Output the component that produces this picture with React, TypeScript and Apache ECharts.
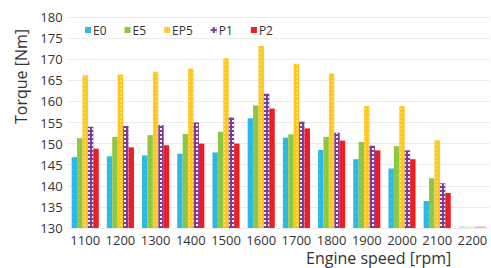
import React, { useEffect, useRef } from "react";
import * as echarts from "echarts";

const categories = ["1100", "1200", "1300", "1400", "1500", "1600", "1700", "1800", "1900", "2000", "2100", "2200"];
const seriesNames = ["E0", "E5", "EP5", "P1", "P2"];
const e0 = [146.8, 147.0, 147.2, 147.6, 147.9, 156.0, 151.4, 148.5, 146.3, 144.1, 136.4, 130.4];
const e5 = [151.3, 151.6, 152.0, 152.3, 152.8, 159.0, 152.2, 151.6, 150.4, 149.4, 141.8, 130.4];
const ep5 = [166.2, 166.4, 167.0, 167.8, 170.2, 173.1, 168.9, 166.6, 158.9, 158.9, 150.8, 130.4];
const p1 = [154.0, 154.2, 154.4, 155.0, 156.2, 161.8, 155.2, 152.6, 149.5, 148.4, 140.6, 130.4];
const p2 = [148.8, 149.1, 149.6, 150.0, 150.0, 158.3, 153.6, 150.7, 148.4, 146.3, 138.3, 130.4];
const yTicks = { min: 130, max: 180, interval: 5 };
const fadedCategory = "2200";

const colors = ["#2BB8E6", "#8DC641", "#FFC620", "#7A3D9C", "#EE1C25"];
const decals: any[] = [
  { symbol: "circle", symbolSize: 0.5, color: "rgba(255,255,255,0.2)", dashArrayX: [3, 3], dashArrayY: [3, 3] },
  { symbol: "circle", symbolSize: 0.5, color: "rgba(255,255,255,0.2)", dashArrayX: [3, 3], dashArrayY: [3, 3] },
  { symbol: "rect", symbolSize: 1, color: "rgba(255,255,255,0.25)", dashArrayX: [2, 2], dashArrayY: [2, 2] },
  { symbol: "rect", symbolSize: 1, color: "rgba(255,255,255,0.95)", dashArrayX: [2, 2], dashArrayY: [2, 2] },
  null,
];

export default function App() {
  const ref = useRef<HTMLDivElement>(null);
  useEffect(() => {
    if (!ref.current) return;
    const chart = echarts.init(ref.current, null, { renderer: "svg" });
    const values = [e0, e5, ep5, p1, p2];
    const font = "'Open Sans', sans-serif";
    chart.setOption({
      animation: false,
      textStyle: { fontFamily: font },
      color: colors,
      legend: {
        data: seriesNames,
        left: 80,
        top: 19,
        itemWidth: 6,
        itemHeight: 6,
        itemGap: 18,
        icon: "rect",
        textStyle: { fontSize: 12, color: "#333", fontFamily: font, padding: [0, 0, 0, -3] },
      },
      grid: { left: 67.6, right: 1, top: 17, bottom: 40, containLabel: false },
      xAxis: {
        type: "category",
        data: categories,
        axisLine: { show: false },
        axisTick: { show: false },
        axisLabel: { fontSize: 13, color: "#333", margin: 5, fontFamily: font, interval: 0 },
      },
      yAxis: {
        type: "value",
        min: yTicks.min,
        max: yTicks.max,
        interval: yTicks.interval,
        axisLine: { show: false },
        axisTick: { show: false },
        axisLabel: { fontSize: 13, color: "#333", margin: 5, fontFamily: font },
        splitLine: { lineStyle: { color: "#ececec", width: 1 } },
      },
      series: seriesNames.map((name, i) => ({
        name,
        type: "bar",
        data: values[i].map((v, j) =>
          categories[j] === fadedCategory ? { value: v, itemStyle: { opacity: 0.3 } } : v
        ),
        barGap: "0%",
        barCategoryGap: "23%",
        itemStyle: decals[i] ? { color: colors[i], decal: decals[i] } : { color: colors[i] },
      })),
      graphic: [
        {
          type: "text",
          left: 306,
          top: 250,
          style: { text: "Engine speed [rpm]", fontSize: 16, fill: "#333", fontFamily: font },
        },
        {
          type: "text",
          x: 13,
          y: 124,
          rotation: Math.PI / 2,
          style: { text: "Torque [Nm]", fontSize: 16, fill: "#333", fontFamily: font },
        },
      ],
    });
    return () => chart.dispose();
  }, []);
  return <div ref={ref} style={{ width: 491, height: 268, position: "absolute", left: 0, top: 0 }} />;
}
